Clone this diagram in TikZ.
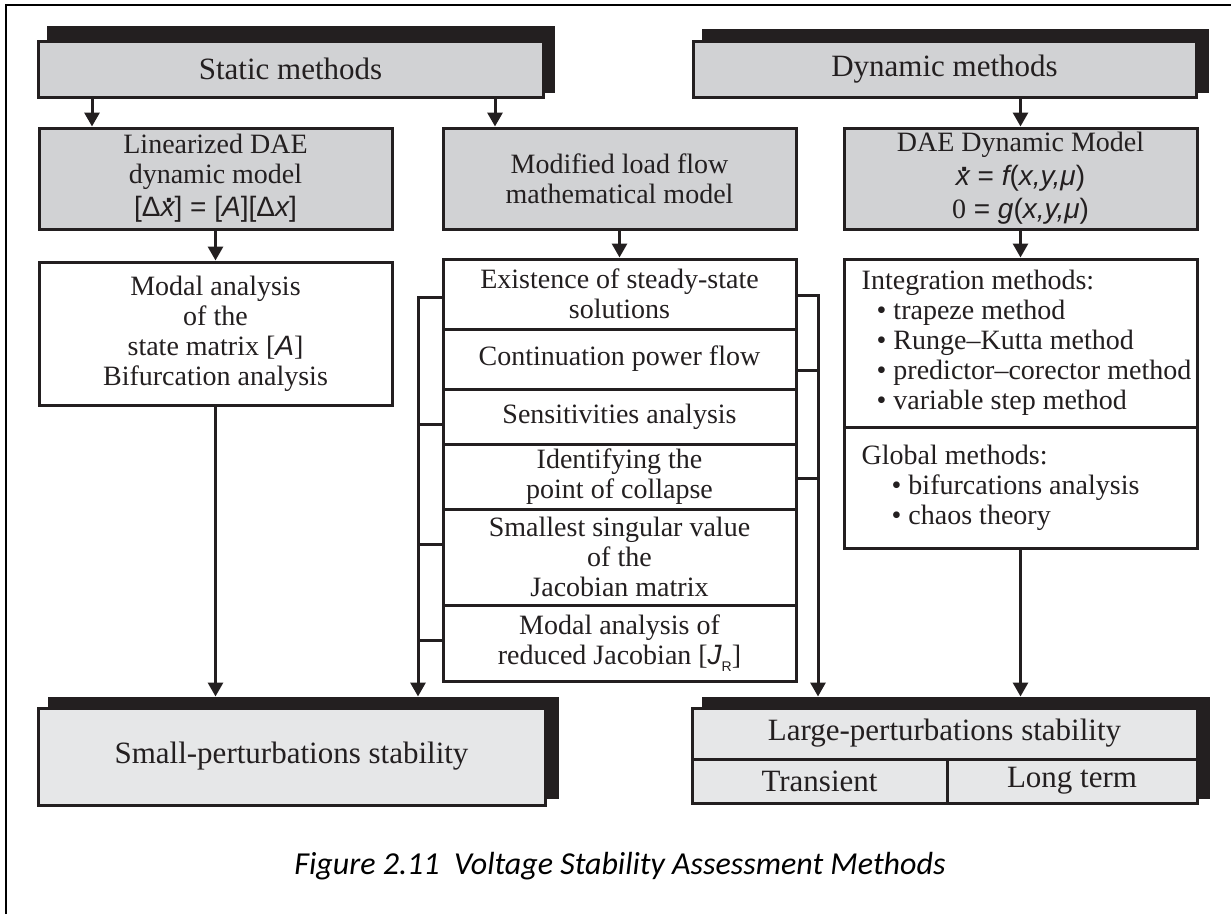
\documentclass[tikz,border=0pt]{standalone}
\usepackage{fontspec}
\setmainfont{Liberation Serif}
\newfontfamily\sansm{Liberation Sans}
\newfontfamily\capfont{Carlito}
\usetikzlibrary{arrows.meta,calc}
\pgfdeclarelayer{bg}
\pgfsetlayers{bg,main}
\definecolor{hdrgray}{HTML}{D1D2D4}
\definecolor{botgray}{HTML}{E6E7E8}
\definecolor{ink}{HTML}{231F20}
\newcommand{\svar}[1]{{\sansm\itshape #1}}
\newcommand{\sroman}[1]{{\sansm #1}}
\newcommand{\dotx}{{\sansm\itshape\rlap{\kern0.16em\smash{\raisebox{0.5em}{\upshape\bfseries .}}}x}}
\newcommand{\bodyfont}{\fontsize{28}{30}\selectfont}
\newcommand{\hdrfont}{\fontsize{31}{36}\selectfont}
\begin{document}
\begin{tikzpicture}[x=1pt,y=-1pt,
  box/.style={draw=ink, line width=3pt, rectangle, inner sep=0pt, align=center, text=ink, font=\bodyfont, fill=white},
  graybox/.style={box, fill=hdrgray},
  hdr/.style={box, fill=hdrgray, font=\hdrfont},
  bot/.style={box, fill=botgray, font=\hdrfont},
  txt/.style={inner sep=0pt, align=left, text=ink, font=\bodyfont},
  arr/.style={draw=ink, line width=3pt, -{Triangle[width=15pt,length=14pt]}},
  conn/.style={draw=ink, line width=3pt},
  shadowc/.style={fill=ink}
]
\useasboundingbox (0,0) rectangle (1231,914);
% frame
\draw[line width=2.5pt, black] (6,914) -- (6,5) -- (1231,5);

% headers
\node[hdr, minimum width=505pt, minimum height=56pt] (static) at (290.5,69) {Static methods};
\node[hdr, minimum width=503pt, minimum height=56pt] (dyn) at (944.5,69) {Dynamic methods};

% row 2
\node[graybox, minimum width=353pt, minimum height=101pt] (lin) at (215.5,178.5)
  {Linearized DAE\\dynamic model\\[3pt] \sroman{[Δ}\dotx\sroman{] = [}\svar{A}\sroman{][Δ}\svar{x}\sroman{]}};
\node[graybox, minimum width=353pt, minimum height=101pt] (mod) at (619.5,178.5)
  {Modified load flow\\mathematical model};
\node[graybox, minimum width=353pt, minimum height=101pt] (dae) at (1020.5,178.5)
  {DAE Dynamic Model\\[4pt] \dotx\sroman{ = }\svar{f}\sroman{(}\svar{x,y,μ}\sroman{)}\\[3pt] 0\sroman{ = }\svar{g}\sroman{(}\svar{x,y,μ}\sroman{)}};

% row 3 left
\node[box, minimum width=353pt, minimum height=143pt] (modal) at (215.5,333.5)
  {Modal analysis\\of the\\state matrix [\svar{A}]\\Bifurcation analysis};

% middle stack
\node[box, minimum width=353pt, minimum height=70pt] (s1) at (619.5,294)
  {Existence of steady-state\\solutions};
\node[box, minimum width=353pt, minimum height=60pt] (s2) at (619.5,359)
  {Continuation power flow};
\node[box, minimum width=353pt, minimum height=55pt] (s3) at (619.5,416.5)
  {Sensitivities analysis};
\node[box, minimum width=353pt, minimum height=65pt] (s4) at (619.5,476.5)
  {Identifying the\\point of collapse};
\node[box, minimum width=353pt, minimum height=96pt] (s5) at (619.5,557)
  {Smallest singular value\\of the\\Jacobian matrix};
\node[box, minimum width=353pt, minimum height=76pt] (s6) at (619.5,643)
  {Modal analysis of\\reduced Jacobian [\svar{J}\raisebox{-0.25em}{\sansm\fontsize{14}{14}\selectfont R}]};

% right column
\node[box, minimum width=353pt, minimum height=168pt] (integ) at (1020.5,343) {};
\node[txt, anchor=west] (integt) at ([xshift=19pt]integ.west)
  {Integration methods:\\\hspace*{15pt}• trapeze method\\\hspace*{15pt}• Runge–Kutta method\\\hspace*{15pt}• predictor–corector method\\\hspace*{15pt}• variable step method};
\node[box, minimum width=353pt, minimum height=121pt] (glob) at (1020.5,487.5) {};
\node[txt, anchor=west] (globt) at ([xshift=19pt]glob.west)
  {Global methods:\\\hspace*{30pt}• bifurcations analysis\\\hspace*{30pt}• chaos theory};

% bottom
\node[bot, minimum width=507pt, minimum height=97pt] (small) at (291.5,756.5) {Small-perturbations stability};
\node[bot, minimum width=505pt, minimum height=51pt] (large) at (944.5,733.5) {Large-perturbations stability};
\node[bot, minimum width=255pt, minimum height=44pt] (trans) at (819.5,781) {Transient};
\node[bot, minimum width=250pt, minimum height=44pt] (long) at (1072,781) {Long term};

% shadows
\begin{pgfonlayer}{bg}
\fill[shadowc] ([shift={(10pt,14pt)}]static.north west) rectangle ([shift={(10pt,6pt)}]static.south east);
\fill[shadowc] ([shift={(10pt,11pt)}]dyn.north west) rectangle ([shift={(11pt,6pt)}]dyn.south east);
\fill[shadowc] ([shift={(11pt,10pt)}]small.north west) rectangle ([shift={(12pt,8pt)}]small.south east);
\fill[shadowc] ([shift={(11pt,10pt)}]large.north west) rectangle ([shift={(11pt,6pt)}]long.south east);
\end{pgfonlayer}

\coordinate (smalltop) at ([yshift=10pt]small.north);
\coordinate (largetop) at ([yshift=10pt]large.north);

% arrows from headers
\coordinate (sa1) at (92,0);
\coordinate (sa2) at (495,0);
\draw[arr] (sa1 |- static.south) -- (sa1 |- lin.north);
\draw[arr] (sa2 |- static.south) -- (sa2 |- mod.north);
\draw[arr] (dae.north |- dyn.south) -- (dae.north);

% row 2 to row 3
\draw[arr] (lin.south) -- (modal.north);
\draw[arr] (mod.south) -- (s1.north);
\draw[arr] (dae.south) -- (integ.north);

% to bottom
\draw[arr] (modal.south) -- (modal.south |- smalltop);
\draw[arr] (glob.south) -- (glob.south |- largetop);

% left bracket
\coordinate (lb) at (418,297);
\draw[arr] (lb -| s1.west) -- (lb) -- (lb |- smalltop);
\coordinate (lb2) at (418,424);
\coordinate (lb3) at (418,544);
\coordinate (lb4) at (418,640);
\draw[conn] (lb2) -- (lb2 -| s3.west);
\draw[conn] (lb3) -- (lb3 -| s5.west);
\draw[conn] (lb4) -- (lb4 -| s6.west);

% right bracket
\coordinate (rb) at (818,295);
\draw[arr] (rb -| s1.east) -- (rb) -- (rb |- largetop);
\coordinate (rb2) at (818,370);
\coordinate (rb3) at (818,478);
\draw[conn] (rb2) -- (rb2 -| s2.east);
\draw[conn] (rb3) -- (rb3 -| s4.east);

% caption
\node[inner sep=0pt, text=black, font=\capfont\itshape\fontsize{32}{36}\selectfont] (cap) at (620,866)
  {Figure 2.11\ \ Voltage Stability Assessment Methods};
\end{tikzpicture}
\end{document}
